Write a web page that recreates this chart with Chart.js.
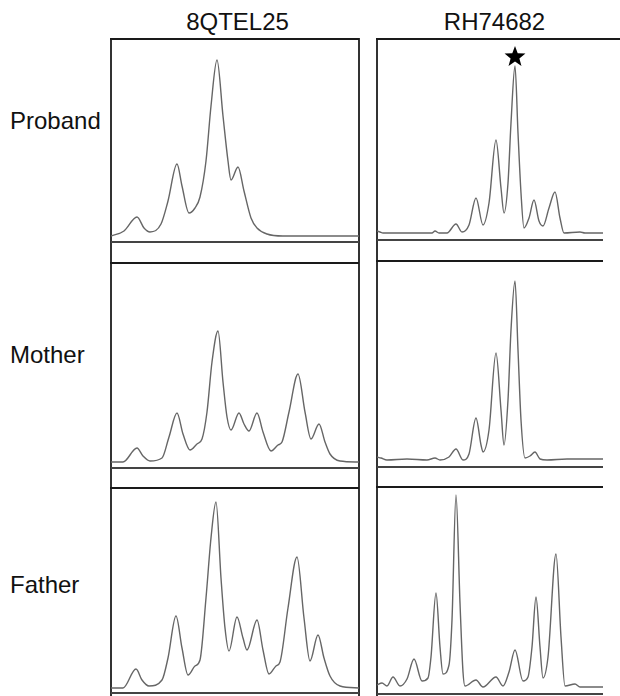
<!DOCTYPE html>
<html>
<head>
<meta charset="utf-8">
<script src="https://cdn.jsdelivr.net/npm/chart.js@4/dist/chart.umd.min.js"></script>
<style>
  html, body { margin:0; padding:0; background:#fff; }
  #root { position:relative; width:620px; height:696px; overflow:hidden; font-family:"Liberation Sans", Arial, Helvetica, sans-serif; color:#111; }
  .lbl { position:absolute; font-size:24px; line-height:24px; white-space:nowrap; }
  .hdr { position:absolute; font-size:24px; line-height:24px; white-space:nowrap; transform:translateX(-50%); }
  .hl { position:absolute; background:#222; }
  .cv { position:absolute; }
</style>
</head>
<body>
<div id="root"></div>
<script>
// ---- DATA (scan position, signal height) ----
const markers = ["8QTEL25", "RH74682"];
const members = ["Proband", "Mother", "Father"];

const proband8QTEL25 = [[0,0],[13,5],[26,19],[33,8],[39,4],[50,12],[57,35],[66,72],[71,50],[78,23],[84,28],[89,39],[95,75],[100,130],[106,176],[112,120],[117,75],[120,56],[127,69],[133,45],[140,18],[146,8],[156,2],[172,0],[248,0]];
const mother8QTEL25 = [[0,0],[12,0],[26,14],[32,6],[39,1],[51,4],[58,25],[66,49],[72,28],[79,12],[86,18],[91,23],[96,50],[101,100],[107,131],[112,80],[116,45],[120,32],[128,49],[133,38],[138,31],[146,49],[152,30],[160,11],[167,17],[171,20],[178,50],[187,88],[194,50],[200,23],[208,38],[214,20],[219,8],[229,1],[248,0]];
const father8QTEL25 = [[0,0],[12,0],[25,19],[31,8],[38,2],[51,8],[57,30],[65,72],[71,40],[77,13],[84,22],[89,28],[95,90],[100,150],[105,186],[110,110],[114,60],[118,37],[126,71],[132,50],[136,38],[146,68],[152,38],[158,14],[165,22],[169,26],[177,80],[186,131],[193,70],[199,27],[207,53],[213,30],[219,12],[229,2],[248,0]];

const probandRH74682 = [[0,2],[3,1],[6,0],[30,0],[55,0],[58,2],[62,0],[70,0],[79,9],[85,1],[92,8],[99,35],[106,8],[112,30],[119,93],[124,45],[127,20],[131,50],[134,110],[138,167],[141,100],[144,40],[147,5],[152,15],[157,33],[162,12],[166,7],[172,25],[178,41],[183,15],[187,0],[203,1],[208,0],[226,0]];
const motherRH74682 = [[0,3],[4,2],[10,0],[30,1],[50,0],[58,2],[63,0],[72,3],[79,11],[86,0],[92,6],[99,42],[104,15],[106,8],[112,30],[119,107],[124,50],[127,15],[131,60],[134,130],[138,179],[141,110],[144,40],[148,2],[153,4],[158,8],[163,1],[170,0],[190,1],[226,1]];
const fatherRH74682 = [[0,2],[5,4],[10,1],[16,10],[23,1],[30,8],[37,28],[45,6],[51,9],[54,30],[59,94],[63,40],[66,13],[72,22],[75,67],[79,192],[83,84],[86,15],[88,1],[99,7],[106,0],[119,10],[126,1],[132,15],[138,37],[146,6],[151,10],[155,40],[159,90],[163,40],[166,9],[171,30],[179,133],[184,50],[188,1],[198,3],[203,0],[226,0]];

// marked allele (star) on proband RH74682
const starMark = [[138,176]];

// ---- LAYOUT ----
const cols = [
  { left:111, right:359, hdrX:237.5, traces:[proband8QTEL25, mother8QTEL25, father8QTEL25],
    rows:[{top:39, base:236, axis:241},{top:263, base:462, axis:467},{top:488, base:688, axis:692}], topRight:[359,359,359] },
  { left:377, right:603, hdrX:494.5, traces:[probandRH74682, motherRH74682, fatherRH74682],
    rows:[{top:39, base:233, axis:239},{top:261, base:460, axis:466},{top:487, base:687, axis:693}], topRight:[620,603,603] }
];
const rowLabelBase = [129, 363, 593];

const root = document.getElementById('root');
function div(cls, css, text) {
  const d = document.createElement('div');
  d.className = cls;
  Object.assign(d.style, css);
  if (text) d.textContent = text;
  root.appendChild(d);
  return d;
}

// text
markers.forEach((m, i) => div('hdr', { left: cols[i].hdrX + 'px', top: (30 - 20) + 'px' }, m));
members.forEach((m, i) => div('lbl', { left: '10px', top: (rowLabelBase[i] - 20) + 'px' }, m));

// star point style
function starImage(R) {
  const c = document.createElement('canvas');
  const s = Math.ceil(R * 2 + 2);
  c.width = s; c.height = s;
  const g = c.getContext('2d');
  g.fillStyle = '#000';
  g.beginPath();
  for (let k = 0; k < 10; k++) {
    const r = k % 2 === 0 ? R : R * 0.42;
    const a = -Math.PI / 2 + k * Math.PI / 5;
    const px = s / 2 + r * Math.cos(a), py = s / 2 + r * Math.sin(a);
    if (k === 0) g.moveTo(px, py); else g.lineTo(px, py);
  }
  g.closePath();
  g.fill();
  return c;
}
const starImg = starImage(11);

cols.forEach((col, ci) => {
  const W = col.right - col.left;
  // vertical frame lines
  div('hl', { left: (col.left - 1) + 'px', top: '38px', width: '2px', height: '660px', background:'#333' });
  if (ci === 0) div('hl', { left: (col.right - 1) + 'px', top: '38px', width: '2px', height: '660px', background:'#333' });

  col.rows.forEach((r, ri) => {
    // top border (thick) and axis line (thin)
    div('hl', { left: (col.left - 1) + 'px', top: (r.top - 1) + 'px', width: (col.topRight[ri] - col.left + 1) + 'px', height: '2px', background:'#1a1a1a' });
    div('hl', { left: col.left + 'px', top: r.axis + 'px', width: W + 'px', height: '1.5px', background:'#444' });

    const cv = document.createElement('canvas');
    cv.className = 'cv';
    const H = r.axis - (r.top + 1);
    cv.width = W; cv.height = H;
    cv.style.left = col.left + 'px';
    cv.style.top = (r.top + 1) + 'px';
    cv.style.width = W + 'px';
    cv.style.height = H + 'px';
    root.appendChild(cv);

    const datasets = [{
      data: col.traces[ri].map(([x, y]) => ({ x, y })),
      borderColor: '#666',
      borderWidth: 1.4,
      pointRadius: 0,
      cubicInterpolationMode: 'monotone',
      fill: false,
      order: 2
    }];
    if (ci === 1 && ri === 0) {
      datasets.push({
        type: 'scatter',
        data: starMark.map(([x, y]) => ({ x, y })),
        pointStyle: starImg,
        pointRadius: 11,
        showLine: false,
        order: 1
      });
    }

    new Chart(cv, {
      type: 'line',
      data: { datasets },
      options: {
        animation: false,
        responsive: false,
        maintainAspectRatio: false,
        devicePixelRatio: 1,
        layout: { padding: 0, autoPadding: false },
        plugins: { legend: { display: false }, tooltip: { enabled: false } },
        scales: {
          x: { type: 'linear', min: 0, max: W, display: false },
          y: { min: -(r.axis - r.base), max: r.base - (r.top + 1), display: false }
        }
      }
    });
  });
});
</script>
</body>
</html>
